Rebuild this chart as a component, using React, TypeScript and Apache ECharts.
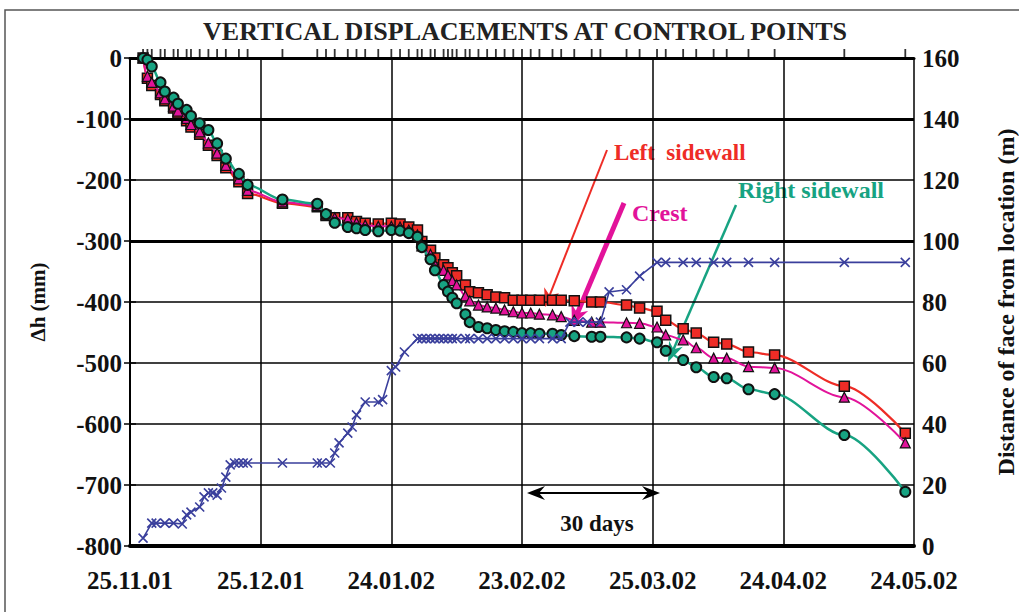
import React, { useEffect, useRef } from "react";
import * as echarts from "echarts";

const FONT = "'Liberation Serif', 'Times New Roman', serif";

const xLabels = ["25.11.01", "25.12.01", "24.01.02", "23.02.02", "25.03.02", "24.04.02", "24.05.02"];

// days since 25.11.01 of displacement readings
const days = [3, 4, 5, 7, 8, 10, 11, 13, 14, 16, 18, 20, 22, 25, 27, 35, 43, 45, 47, 50, 52, 54, 57, 60, 62, 64, 66, 67, 69, 70, 72, 73, 74, 75, 77, 78, 80, 82, 84, 86, 88, 90, 92, 94, 97, 99, 102, 106, 108, 114, 117, 121, 123, 127, 130, 134, 137, 142, 148, 164, 178];

const leftSidewall = [0, -33, -45, -60, -70, -82, -90, -103, -113, -125,
  -143, -160, -180, -203, -222, -238, -244, -258, -262, -262,
  -268, -271, -272, -271, -272, -277, -282, -301, -315, -328,
  -339, -344, -352, -357, -372, -383, -385, -388, -392, -393,
  -397, -397, -397, -397, -397, -397, -398, -400, -400, -405,
  -410, -415, -430, -444, -451, -466, -469, -482, -487, -538,
  -615];

const crest = [0, -30, -40, -57, -67, -79, -87, -99, -109, -121,
  -139, -156, -176, -198, -217, -236, -242, -256, -262, -264,
  -270, -274, -276, -276, -277, -282, -290, -308, -322, -338,
  -348, -356, -365, -372, -390, -398, -405, -408, -410, -413,
  -416, -418, -418, -420, -421, -424, -430, -433, -433, -434,
  -435, -441, -454, -462, -475, -492, -492, -506, -508, -556,
  -631];

const rightSidewall = [0, -3, -14, -40, -55, -65, -75, -85, -95, -107,
  -118, -140, -165, -190, -208, -232, -239, -256, -270, -277,
  -279, -282, -284, -282, -283, -287, -293, -310, -330, -348,
  -372, -383, -393, -402, -420, -433, -441, -443, -446, -448,
  -449, -451, -451, -452, -452, -454, -456, -457, -457, -458,
  -460, -466, -480, -495, -507, -523, -525, -543, -551, -618,
  -711];

// face distance readings
const faceDays = [3, 5, 6, 8, 10, 12, 13, 14, 16, 17,
  18, 19, 20, 21, 22, 23, 24, 25, 26, 27,
  35, 43, 44, 46, 47, 48, 50, 51, 52, 54,
  57, 58, 60, 61, 63, 66,
  67, 68, 69, 70, 71, 72, 73, 74, 75, 77,
  78, 80, 82, 84, 86, 88, 90, 92, 94, 97,
  99,
  101, 103, 105, 108,
  110, 114, 117, 121, 123, 127, 130, 134, 137, 142,
  148, 164, 178];

const faceDist = [2.6, 7.5, 7.5, 7.5, 7.5, 7.2, 10.2, 11.1, 12.8, 16.1,
  17.4, 17.4, 16.7, 19, 22.6, 26.6, 27.2, 27.2, 27.2, 27.2,
  27.2, 27.2, 27.2, 27.2, 30.5, 33.8, 37, 39, 43, 47.2,
  47.2, 48, 57.5, 58.7, 63.6, 68,
  68, 68, 68, 68, 68, 68, 68, 68, 68, 68,
  68, 68, 68, 68, 68, 68, 68, 68, 68, 68,
  68,
  73.4, 73.4, 73.4, 73.4,
  83.3, 84, 88.5, 93, 93, 93, 93, 93, 93, 93,
  93, 93, 93];

const RED = "#EE2C26";
const MAGENTA = "#E2139A";
const TEAL = "#17A382";
const BLUE = "#3A3F9C";

function arrow(x1: number, y1: number, x2: number, y2: number, color: string, w: number, hl: number, hw: number) {
  const a = Math.atan2(y2 - y1, x2 - x1);
  const c = Math.cos(a), s = Math.sin(a);
  const bx = x2 - hl * c, by = y2 - hl * s;
  const nx = x2 - hl * 0.7 * c, ny = y2 - hl * 0.7 * s;
  const px = -s * hw / 2, py = c * hw / 2;
  return [
    { type: "line", shape: { x1, y1, x2: nx, y2: ny }, style: { stroke: color, lineWidth: w } },
    { type: "polygon", shape: { points: [[x2, y2], [bx + px, by + py], [nx, ny], [bx - px, by - py]] }, style: { fill: color } },
  ];
}

function doubleArrow(x1: number, x2: number, y: number) {
  return [
    { type: "line", shape: { x1: x1 + 8, y1: y, x2: x2 - 8, y2: y }, style: { stroke: "#000", lineWidth: 2 } },
    { type: "polygon", shape: { points: [[x1, y], [x1 + 18, y - 7], [x1 + 12, y], [x1 + 18, y + 7]] }, style: { fill: "#000" } },
    { type: "polygon", shape: { points: [[x2, y], [x2 - 18, y - 7], [x2 - 12, y], [x2 - 18, y + 7]] }, style: { fill: "#000" } },
  ];
}

export default function App() {
  const ref = useRef<HTMLDivElement>(null);
  useEffect(() => {
    if (!ref.current) return;
    const chart = echarts.init(ref.current, null, { renderer: "svg" });
    const labelStyle = { fontFamily: FONT, fontSize: 25, fontWeight: "bold" as const, color: "#111" };
    const pts = (vals: number[]) => days.map((d, i) => [d, vals[i]]);
    chart.setOption({
      animation: false,
      backgroundColor: "#fff",
      grid: { left: 130, right: 105, top: 58, bottom: 66, outerBoundsMode: "none" },
      xAxis: [
        {
          type: "value", min: 0, max: 180, interval: 30, position: "bottom",
          axisLine: { lineStyle: { color: "#000", width: 3 } },
          axisTick: { show: false },
          axisLabel: { ...labelStyle, margin: 22, formatter: (v: number) => xLabels[Math.round(v / 30)] ?? "" },
          splitLine: { show: true, lineStyle: { color: "#000", width: 1.5 } },
        },
        {
          type: "value", min: 0, max: 180, position: "top",
          axisLine: { lineStyle: { color: "#000", width: 4 } },
          axisTick: { show: false }, axisLabel: { show: false }, splitLine: { show: false },
        },
      ],
      yAxis: [
        {
          type: "value", min: -800, max: 0, interval: 100, position: "left",
          name: "Δh (mm)", nameLocation: "middle", nameGap: 82, nameRotate: 90,
          nameTextStyle: { fontFamily: FONT, fontSize: 21, fontWeight: "bold", color: "#111" },
          axisLine: { show: true, lineStyle: { color: "#000", width: 2 } },
          axisTick: { show: true, length: 6, lineStyle: { color: "#000", width: 1.5 } },
          axisLabel: { ...labelStyle, margin: 8 },
          splitLine: { show: true, lineStyle: { color: "#000", width: 1.5 } },
        },
        {
          type: "value", min: 0, max: 160, interval: 20, position: "right",
          name: "Distance of face from location (m)", nameLocation: "middle", nameGap: 80, nameRotate: 90,
          nameTextStyle: { fontFamily: FONT, fontSize: 24, fontWeight: "bold", color: "#111" },
          axisLine: { show: true, lineStyle: { color: "#000", width: 2 } },
          axisTick: { show: true, length: 6, lineStyle: { color: "#000", width: 1.5 } },
          axisLabel: { ...labelStyle, margin: 8 },
          splitLine: { show: false },
        },
      ],
      series: [
        {
          type: "scatter", xAxisIndex: 0, yAxisIndex: 0, clip: false, silent: true,
          data: days.map((d) => [d, 0]), symbol: "rect", symbolSize: [1.8, 8], symbolOffset: [0, -5],
          itemStyle: { color: "#000" }, z: 1,
        },
        {
          name: "Left sidewall", type: "line", xAxisIndex: 0, yAxisIndex: 0, clip: false,
          data: pts(leftSidewall), smooth: 0.3, smoothMonotone: "x",
          symbol: "rect", symbolSize: 10,
          lineStyle: { color: RED, width: 2.2 },
          itemStyle: { color: RED, borderColor: "#111", borderWidth: 1.5 },
          markLine: {
            silent: true, symbol: ["none", "none"], label: { show: false },
            lineStyle: { color: "#000", width: 3, type: "solid" },
            data: [{ yAxis: -100 }, { yAxis: -300 }],
          },
          z: 3,
        },
        {
          name: "Crest", type: "line", xAxisIndex: 0, yAxisIndex: 0, clip: false,
          data: pts(crest), smooth: 0.3, smoothMonotone: "x",
          symbol: "triangle", symbolSize: 10,
          lineStyle: { color: MAGENTA, width: 2 },
          itemStyle: { color: MAGENTA, borderColor: "#111", borderWidth: 1.2 },
          z: 4,
        },
        {
          name: "Right sidewall", type: "line", xAxisIndex: 0, yAxisIndex: 0, clip: false,
          data: pts(rightSidewall), smooth: 0.3, smoothMonotone: "x",
          symbol: "circle", symbolSize: 10,
          lineStyle: { color: TEAL, width: 2.5 },
          itemStyle: { color: TEAL, borderColor: "#111", borderWidth: 2 },
          z: 5,
        },
        {
          name: "Face distance", type: "line", xAxisIndex: 0, yAxisIndex: 1, clip: false,
          data: faceDays.map((d, i) => [d, faceDist[i]]),
          symbol: "path://M0 0L10 10M10 0L0 10", symbolSize: 9,
          lineStyle: { color: BLUE, width: 1.6 },
          itemStyle: { color: BLUE, borderColor: BLUE, borderWidth: 1.6 },
          z: 6,
        },
      ],
      graphic: [
        { type: "rect", shape: { x: 5, y: 10, width: 1100, height: 700 }, style: { fill: "none", stroke: "#555", lineWidth: 1.5 }, silent: true, z: -10 },
        {
          type: "text", x: 525, y: 31,
          style: { text: "VERTICAL DISPLACEMENTS AT CONTROL POINTS", align: "center", verticalAlign: "middle", fontFamily: FONT, fontSize: 26, fontWeight: "bold", fill: "#222" },
        },
        { type: "text", x: 614, y: 152, style: { text: "Left  sidewall", align: "left", verticalAlign: "middle", fontFamily: FONT, fontSize: 23, fontWeight: "bold", fill: RED } },
        { type: "text", x: 632, y: 213, style: { text: "Crest", align: "left", verticalAlign: "middle", fontFamily: FONT, fontSize: 24, fontWeight: "bold", fill: MAGENTA } },
        { type: "text", x: 738, y: 190, style: { text: "Right sidewall", align: "left", verticalAlign: "middle", fontFamily: FONT, fontSize: 24, fontWeight: "bold", fill: TEAL } },
        { type: "text", x: 597, y: 523, style: { text: "30 days", align: "center", verticalAlign: "middle", fontFamily: FONT, fontSize: 23, fontWeight: "bold", fill: "#111" } },
        { type: "group", children: arrow(607, 150, 545, 307, RED, 2, 18, 16) },
        { type: "group", children: arrow(624, 203, 572, 326, MAGENTA, 5, 20, 18) },
        { type: "group", children: arrow(736, 205, 668, 362, TEAL, 2.5, 20, 15) },
        { type: "group", children: doubleArrow(527, 660, 493) },
      ],
    });
    return () => chart.dispose();
  }, []);
  return <div ref={ref} style={{ position: "fixed", left: 0, top: 0, width: 1019, height: 612 }} />;
}
